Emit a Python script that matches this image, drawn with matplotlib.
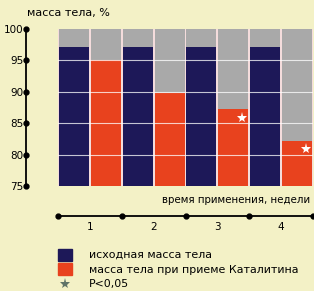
import matplotlib
matplotlib.use("Agg")
import matplotlib.pyplot as plt
from matplotlib.patches import Rectangle

weeks = ["1", "2", "3", "4"]
baseline = [97.2, 97.2, 97.2, 97.2]
treated = [95.0, 89.8, 87.2, 82.2]
significant = [False, False, True, True]
yticks = [75, 80, 85, 90, 95, 100]
ylabel = "масса тела, %"
xlabel = "время применения, недели"
legend_labels = ["исходная масса тела", "масса тела при приеме Каталитина", "P<0,05"]

BG = "#f3f1c6"
NAVY = "#1d1858"
RED = "#e8421e"
GRAY = "#a9a9a9"
FONT = "DejaVu Sans"

W, H = 314, 291
fig = plt.figure(figsize=(W / 100, H / 100), dpi=100)
fig.patch.set_facecolor(BG)

def fx(px):
    return px / W

def fy(py):
    return 1 - py / H

# main bar axes
top_px, bot_px = 29, 186
left_px, right_px = 58, 313
ax = fig.add_axes([fx(left_px), fy(bot_px), fx(right_px - left_px), (bot_px - top_px) / H])
ax.set_facecolor("#f4dcdc")
ax.set_xlim(0, 4)
ax.set_ylim(yticks[0], yticks[-1])
for s in ax.spines.values():
    s.set_visible(False)
ax.set_xticks([])
ax.set_yticks([])

w = 0.47
for i, (b, t) in enumerate(zip(baseline, treated)):
    xb = i + 0.25
    xt = i + 0.75
    ax.bar([xb, xt], [yticks[-1] - yticks[0]] * 2, bottom=yticks[0], width=w, color=GRAY, zorder=1)
    ax.bar(xb, b - yticks[0], bottom=yticks[0], width=w, color=NAVY, zorder=2)
    ax.bar(xt, t - yticks[0], bottom=yticks[0], width=w, color=RED, zorder=2)
    if significant[i]:
        ax.plot(xt + 0.14, t - 1.3, marker="*", color="white", markersize=8, zorder=4,
                markeredgewidth=0)
for yv in yticks[1:-1]:
    ax.axhline(yv, color="white", lw=0.8, alpha=0.75, zorder=3)

# y axis line
axy = fig.add_axes([fx(26), fy(bot_px), 0.0001, (bot_px - top_px) / H])
axy.set_ylim(yticks[0], yticks[-1])
axy.set_xlim(-1, 1)
for s in axy.spines.values():
    s.set_visible(False)
axy.axvline(0, color="black", lw=1.3, clip_on=False)
axy.plot([0] * len(yticks), yticks, "o", color="black", markersize=3.5, clip_on=False)
axy.set_xticks([])
axy.set_yticks(yticks)
axy.set_yticklabels([str(v) for v in yticks], fontsize=7.5, fontfamily=FONT)
axy.tick_params(axis="y", length=0, pad=2)
axy.patch.set_alpha(0)

# x axis line (separate)
axx = fig.add_axes([fx(left_px), fy(216), fx(right_px - left_px), 0.0001])
axx.set_xlim(0, 4)
axx.set_ylim(-1, 1)
for s in axx.spines.values():
    s.set_visible(False)
axx.axhline(0, color="black", lw=1.3, clip_on=False)
axx.plot(range(len(weeks) + 1), [0] * (len(weeks) + 1), "o", color="black", markersize=3.5, clip_on=False)
axx.set_yticks([])
axx.set_xticks([i + 0.5 for i in range(len(weeks))])
axx.set_xticklabels(weeks, fontsize=7.5, fontfamily=FONT)
axx.tick_params(axis="x", length=0, pad=4)
axx.patch.set_alpha(0)

fig.text(fx(310), fy(200), xlabel, ha="right", va="center", fontsize=7.4, fontfamily=FONT)
fig.text(fx(27), fy(13), ylabel, ha="left", va="center", fontsize=8, fontfamily=FONT)

# legend
fig.add_artist(Rectangle((fx(58), fy(261)), fx(14), 12 / H, color=NAVY, transform=fig.transFigure))
fig.add_artist(Rectangle((fx(58), fy(275)), fx(14), 12 / H, color=RED, transform=fig.transFigure))
fig.add_artist(plt.Line2D([fx(65)], [fy(284)], marker="*", color="#5f7468", markersize=8,
                          markeredgewidth=0, transform=fig.transFigure))
for k, yy in enumerate([255, 270, 284]):
    fig.text(fx(89), fy(yy), legend_labels[k], ha="left", va="center", fontsize=7.9, fontfamily=FONT)

fig.savefig("out.png", dpi=100, facecolor=BG)
